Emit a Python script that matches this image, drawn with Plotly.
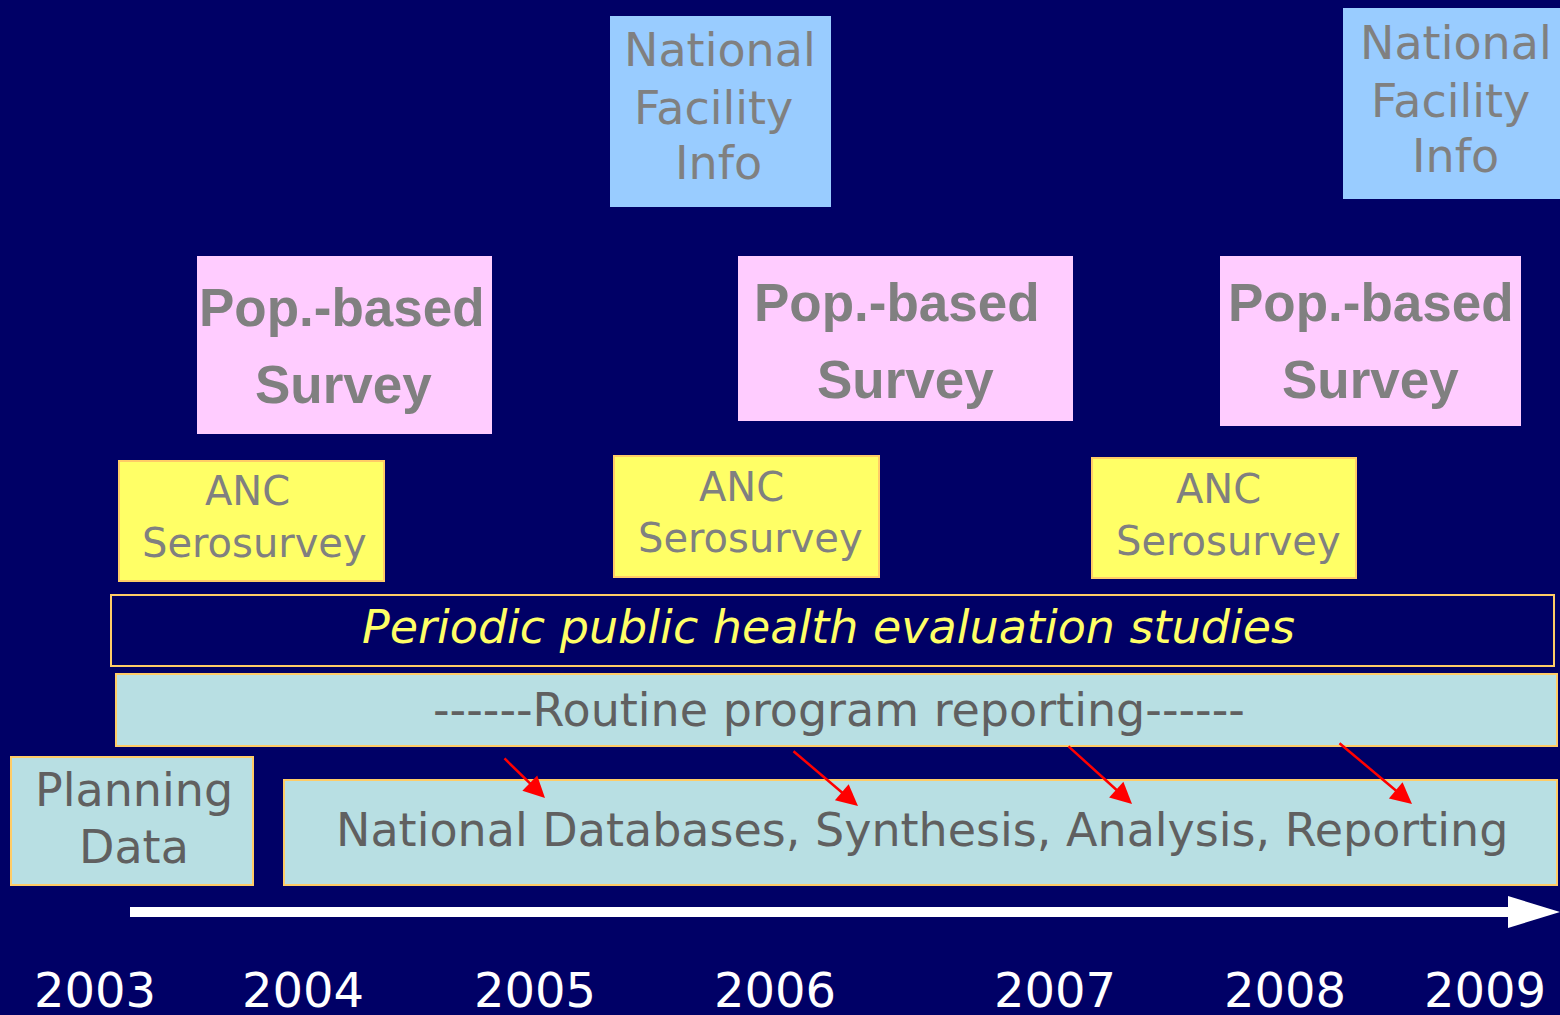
import plotly.graph_objects as go

# ---- data ----
years = ["2003", "2004", "2005", "2006", "2007", "2008", "2009"]
year_x = [95, 303, 535, 775, 1055, 1285, 1485]

box_kind = ["nfi", "nfi", "pop", "pop", "pop", "anc", "anc", "anc", "periodic", "routine", "planning", "natdb"]
box_x0 = [610, 1343, 197, 738, 1220, 119, 614, 1092, 111, 116, 11, 284]
box_x1 = [831, 1562, 492, 1073, 1521, 384, 879, 1356, 1554, 1557, 253, 1557]
box_y0 = [16, 8, 256, 256, 256, 461, 456, 458, 595, 674, 757, 780]
box_y1 = [207, 199, 434, 421, 426, 581, 577, 578, 666, 746, 885, 885]

line_text = ["National", "Facility", "Info",
             "National", "Facility", "Info",
             "Pop.-based", "Survey", "Pop.-based", "Survey", "Pop.-based", "Survey",
             "ANC", "Serosurvey", "ANC", "Serosurvey", "ANC", "Serosurvey",
             "Periodic public health evaluation studies",
             "------Routine program reporting------",
             "Planning", "Data",
             "National Databases, Synthesis, Analysis, Reporting"]
line_x = [720, 713, 718, 1456, 1450, 1455,
          342, 343, 897, 905, 1371, 1370,
          247, 254, 741, 750, 1218, 1228,
          828, 839, 134, 134, 922]
line_y = [50, 108, 163, 43, 101, 156,
          307, 384, 302, 379, 302, 379,
          491, 543, 487, 538, 489, 541,
          627, 710, 790, 847, 830]
line_kind = ["nfi"] * 6 + ["pop"] * 6 + ["anc"] * 6 + ["periodic", "routine", "planning", "planning", "natdb"]

arrow_x0 = [503, 792, 1067, 1338]
arrow_y0 = [757, 750, 745, 742]
arrow_x1 = [545, 858, 1132, 1412]
arrow_y1 = [798, 806, 804, 804]

timeline_x = [130, 1560]
timeline_y = 912

# ---- styles ----
BG = "#000066"
ORANGE = "#FFCC66"
SANS = "DejaVu Sans"
fill = {"nfi": "#99CCFF", "pop": "#FFCCFF", "anc": "#FFFF66", "periodic": BG,
        "routine": "#B8DFE3", "planning": "#B8DFE3", "natdb": "#B8DFE3"}
border = {"nfi": None, "pop": None, "anc": ORANGE, "periodic": ORANGE,
          "routine": ORANGE, "planning": ORANGE, "natdb": ORANGE}
font_style = {
    "nfi": dict(family=SANS, size=46, color="#808080"),
    "pop": dict(family="Liberation Sans", size=53, color="#808080", weight="bold"),
    "anc": dict(family=SANS, size=40, color="#808080"),
    "periodic": dict(family=SANS, size=46, color="#FFFF66", style="italic"),
    "routine": dict(family=SANS, size=46, color="#606060"),
    "planning": dict(family=SANS, size=46, color="#606060"),
    "natdb": dict(family=SANS, size=46, color="#606060"),
}

fig = go.Figure()
fig.add_trace(go.Scatter(x=[0, 1560], y=[0, 1015], mode="markers",
                         marker=dict(opacity=0), hoverinfo="skip", showlegend=False))

for k, x0, x1, y0, y1 in zip(box_kind, box_x0, box_x1, box_y0, box_y1):
    b = border[k]
    fig.add_shape(type="rect", xref="x", yref="y", x0=x0, x1=x1, y0=y0, y1=y1,
                  fillcolor=fill[k],
                  line=dict(color=b if b else fill[k], width=2 if b else 0),
                  layer="below")

for t, x, y, k in zip(line_text, line_x, line_y, line_kind):
    fig.add_annotation(x=x, y=y, xref="x", yref="y", text=t, showarrow=False,
                       font=font_style[k], xanchor="center", yanchor="middle")

# timeline arrow
head = 52
fig.add_shape(type="line", xref="x", yref="y", x0=timeline_x[0], x1=timeline_x[1] - head + 2,
              y0=timeline_y, y1=timeline_y, line=dict(color="white", width=10))
fig.add_shape(type="path", xref="x", yref="y",
              path=f"M {timeline_x[1]-head} {timeline_y-16} L {timeline_x[1]} {timeline_y} L {timeline_x[1]-head} {timeline_y+16} Z",
              fillcolor="white", line=dict(color="white", width=0))

# red arrows
for x0, y0, x1, y1 in zip(arrow_x0, arrow_y0, arrow_x1, arrow_y1):
    fig.add_annotation(x=x1, y=y1, ax=x0, ay=y0, xref="x", yref="y", axref="x", ayref="y",
                       text="", showarrow=True, arrowhead=2, arrowsize=1.7, arrowwidth=2.5,
                       arrowcolor="#FF0000", standoff=0)

for t, x in zip(years, year_x):
    fig.add_annotation(x=x, y=990, xref="x", yref="y", text=t, showarrow=False,
                       font=dict(family=SANS, size=48, color="white"),
                       xanchor="center", yanchor="middle")

fig.update_layout(
    width=1560, height=1015,
    margin=dict(l=0, r=0, t=0, b=0),
    paper_bgcolor=BG, plot_bgcolor=BG,
    xaxis=dict(range=[0, 1560], visible=False, fixedrange=True),
    yaxis=dict(range=[1015, 0], visible=False, fixedrange=True),
    showlegend=False,
)

fig.write_html("out.html",
               config={"displayModeBar": False},
               post_script="document.body.style.margin='0';document.body.style.overflow='hidden';document.body.style.background='#000066';")
